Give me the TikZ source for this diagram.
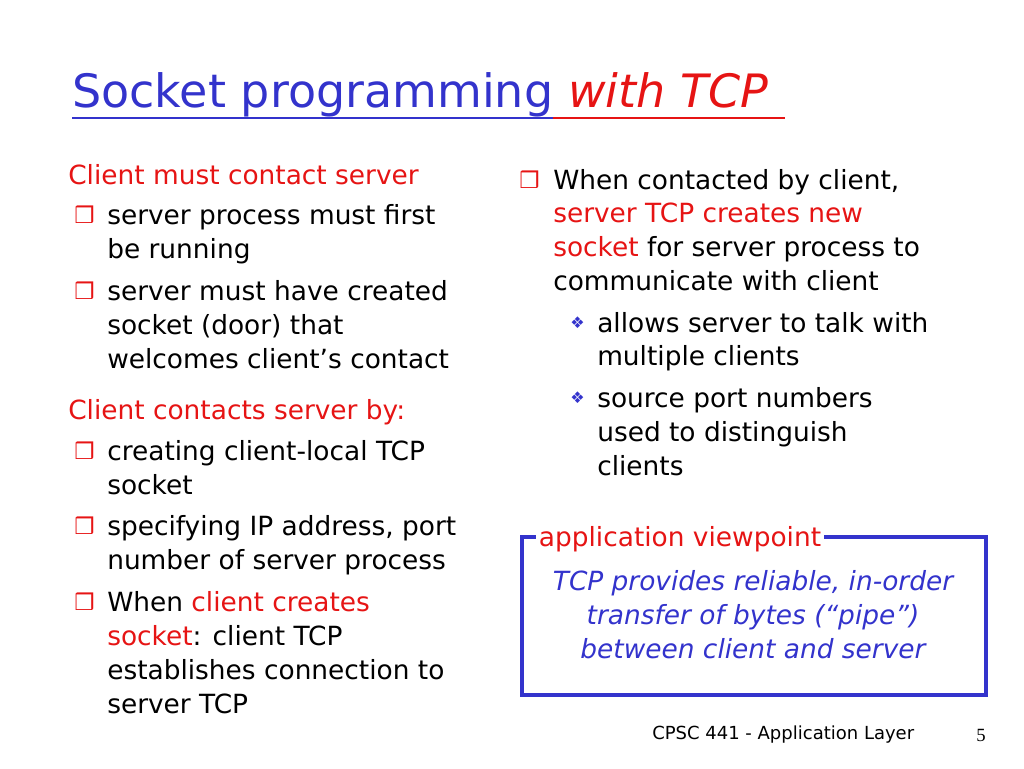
\documentclass[tikz,border=0pt]{standalone}
\usepackage{fontspec}
\setmainfont{DejaVu Sans}
\newfontfamily\serifnum{Liberation Serif}
\definecolor{tblue}{RGB}{51,51,204}
\definecolor{tred}{RGB}{230,20,20}
\begin{document}
\begin{tikzpicture}[x=0.75pt,y=-0.75pt,
  tx/.style={anchor=west,inner sep=0pt,text height=16.5pt,text depth=2pt,font=\fontsize{19.8}{20}\selectfont},
  rd/.style={tx,text=tred},
  bul/.style={anchor=west,inner sep=0pt,text=tred,font=\fontsize{17}{17}\bfseries\selectfont},
  sub/.style={anchor=west,inner sep=0pt,text=tblue,font=\fontsize{12}{12}\selectfont},
  it/.style={anchor=center,inner sep=0pt,text height=16.5pt,text depth=2pt,text=tblue,font=\fontsize{19.8}{20}\itshape\selectfont}]
\useasboundingbox (0,0) rectangle (1024,768);
% title
\node[anchor=base west,inner sep=0pt,text=tblue,font=\fontsize{34.5}{36}\selectfont] (t1) at (72,107) {Socket programming};
\node[anchor=base west,inner sep=0pt,text=tred,font=\fontsize{34.5}{36}\itshape\selectfont] (t2) at (t1.base east) {\ with TCP};
\draw[tblue,line width=1.5pt] (72,118) -- (t1.base east |- 0,118);
\draw[tred,line width=1.5pt] (t1.base east |- 0,118) -- (785,118);
% left column
\node[rd] (l0) at (68,175) {Client must contact server};
\node[bul] (b1) at (74,215) {❒};
\node[tx] (l1) at (107,215) {server process must first};
\node[tx] (l2) at (107,249) {be running};
\node[bul] (b2) at (74,291) {❒};
\node[tx] (l3) at (107,291) {server must have created};
\node[tx] (l4) at (107,325) {socket (door) that};
\node[tx] (l5) at (107,359) {welcomes client’s contact};
\node[rd] (l6) at (68,410) {Client contacts server by:};
\node[bul] (b3) at (74,451) {❒};
\node[tx] (l7) at (107,451) {creating client-local TCP};
\node[tx] (l8) at (107,485) {socket};
\node[bul] (b4) at (74,526) {❒};
\node[tx] (l9) at (107,526) {specifying IP address, port};
\node[tx] (l10) at (107,560) {number of server process};
\node[bul] (b5) at (74,602) {❒};
\node[tx] (l11) at (107,602) {When \textcolor{tred}{client creates}};
\node[tx] (l12) at (107,636) {\textcolor{tred}{socket}: client TCP};
\node[tx] (l13) at (107,670) {establishes connection to};
\node[tx] (l14) at (107,704) {server TCP};
% right column
\node[bul] (b6) at (519,180) {❒};
\node[tx] (r1) at (553,180) {When contacted by client,};
\node[rd] (r2) at (553,213) {server TCP creates new};
\node[tx] (r3) at (553,247) {\textcolor{tred}{socket} for server process to};
\node[tx] (r4) at (553,281) {communicate with client};
\node[sub] (s1) at (570,323) {❖};
\node[tx] (r5) at (597,323) {allows server to talk with};
\node[tx] (r6) at (597,356) {multiple clients};
\node[sub] (s2) at (570,398) {❖};
\node[tx] (r7) at (597,398) {source port numbers};
\node[tx] (r8) at (597,432) {used to distinguish};
\node[tx] (r9) at (597,466) {clients};
% box
\draw[tblue,line width=2.4pt] (522,537) rectangle (986,695);
\node[rd,fill=white,inner xsep=2pt] (bl) at (536,537) {application viewpoint};
\node[it] (i1) at (753,581) {TCP provides reliable, in-order};
\node[it] (i2) at (753,615) {transfer of bytes (“pipe”)};
\node[it] (i3) at (753,649) {between client and server};
% footer
\node[anchor=west,inner sep=0pt,font=\fontsize{13.5}{14}\selectfont] (f1) at (652,735) {CPSC 441 - Application Layer};
\node[anchor=west,inner sep=0pt,font=\fontsize{14}{14}\serifnum] (f2) at (976,735) {5};
\end{tikzpicture}
\end{document}
